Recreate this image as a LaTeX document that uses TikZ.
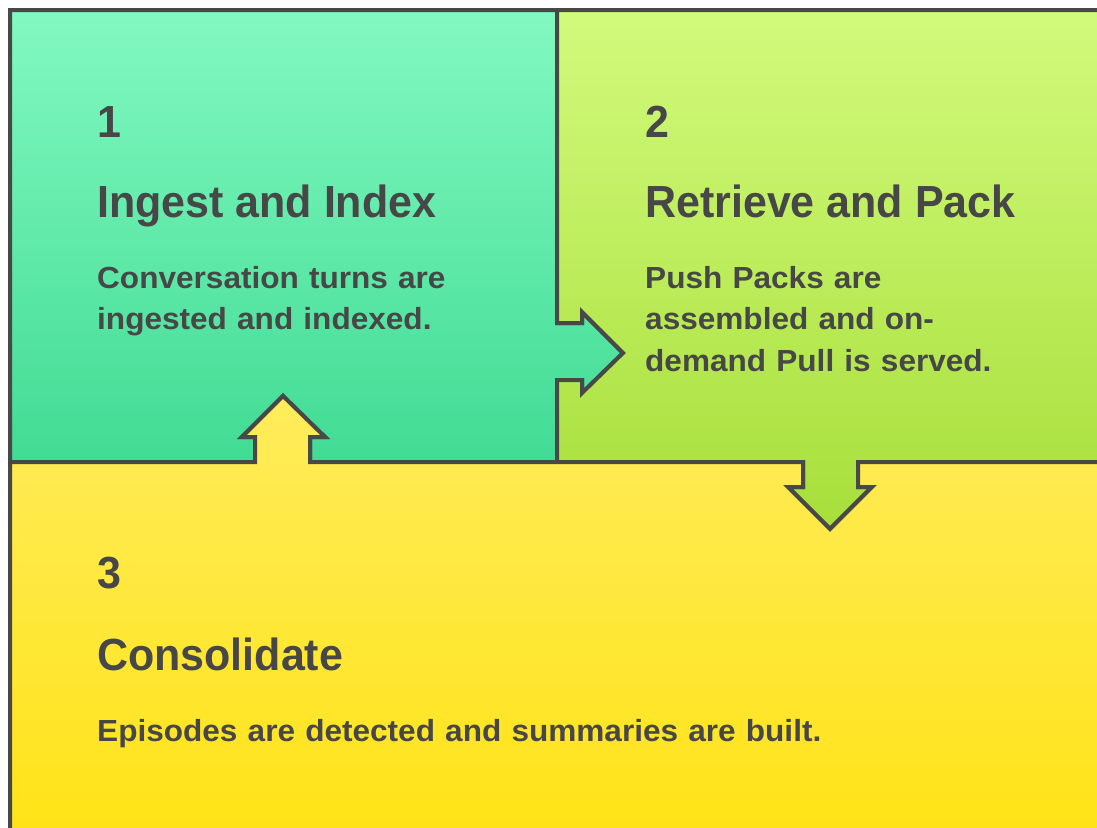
\documentclass[tikz,border=0pt]{standalone}
\usepackage{fontspec}
\newfontfamily\hfont[FakeStretch=0.955]{Liberation Sans Bold}
\newfontfamily\bfont[FakeStretch=1.035]{Liberation Sans Bold}
\definecolor{edge}{HTML}{484848}
\definecolor{txt}{HTML}{474747}
\definecolor{gA}{HTML}{82F9C1}
\definecolor{gB}{HTML}{41DB94}
\definecolor{lA}{HTML}{D2FA7C}
\definecolor{lB}{HTML}{A7DF3A}
\definecolor{yA}{HTML}{FFEC5C}
\definecolor{yB}{HTML}{FFE315}
\tikzset{
  panel/.style={draw=edge, line width=4pt, line join=miter},
  numtxt/.style={anchor=base west, inner sep=0pt, text=txt, font=\hfont\fontsize{45}{54}\selectfont},
  titletxt/.style={anchor=base west, inner sep=0pt, text=txt, font=\hfont\fontsize{45}{54}\selectfont},
  bodytxt/.style={anchor=base west, inner sep=0pt, text=txt, align=left, text width=440pt, font=\bfont\fontsize{30.5}{41.5}\selectfont},
}
\begin{document}
\begin{tikzpicture}[x=1pt,y=-1pt]
\useasboundingbox (0,0) rectangle (1097,827);
\fill[white] (0,0) rectangle (1097,827);
\begin{scope}
\clip (0,0) rectangle (1097,827);
% panel 1
\shade[panel, top color=gA, bottom color=gB]
  (10,10) -- (557,10) -- (557,323) -- (582,323) -- (582,312) -- (623,353) -- (582,393) -- (582,380) -- (557,380) -- (557,462)
  -- (310,462) -- (310,437) -- (325,437) -- (283,396) -- (242,437) -- (255,437) -- (255,462) -- (10,462) -- cycle;
% panel 2
\shade[panel, top color=lA, bottom color=lB]
  (557,10) -- (1115,10) -- (1115,462) -- (858,462) -- (858,487) -- (872,487) -- (830,529) -- (788,487) -- (803,487) -- (803,462)
  -- (557,462) -- (557,380) -- (582,380) -- (582,393) -- (623,353) -- (582,312) -- (582,323) -- (557,323) -- cycle;
% panel 3
\shade[panel, top color=yA, bottom color=yB]
  (10,462) -- (255,462) -- (255,437) -- (242,437) -- (283,396) -- (325,437) -- (310,437) -- (310,462)
  -- (803,462) -- (803,487) -- (788,487) -- (830,529) -- (872,487) -- (858,487) -- (858,462)
  -- (1115,462) -- (1115,845) -- (10,845) -- cycle;
\end{scope}
% texts
\node[numtxt] (n1) at (97,137) {1};
\node[titletxt] (t1) at (97,217) {Ingest and Index};
\node[bodytxt] (b1) at (97,288) {Conversation turns are\\ingested and indexed.};
\node[numtxt] (n2) at (645,137) {2};
\node[titletxt] (t2) at (645,217) {Retrieve and Pack};
\node[bodytxt] (b2) at (645,288) {Push Packs are\\assembled and on-\\demand Pull is served.};
\node[numtxt] (n3) at (97,588) {3};
\node[titletxt] (t3) at (97,670) {Consolidate};
\node[bodytxt, text width=900pt] (b3) at (97,741) {Episodes are detected and summaries are built.};
\end{tikzpicture}
\end{document}
